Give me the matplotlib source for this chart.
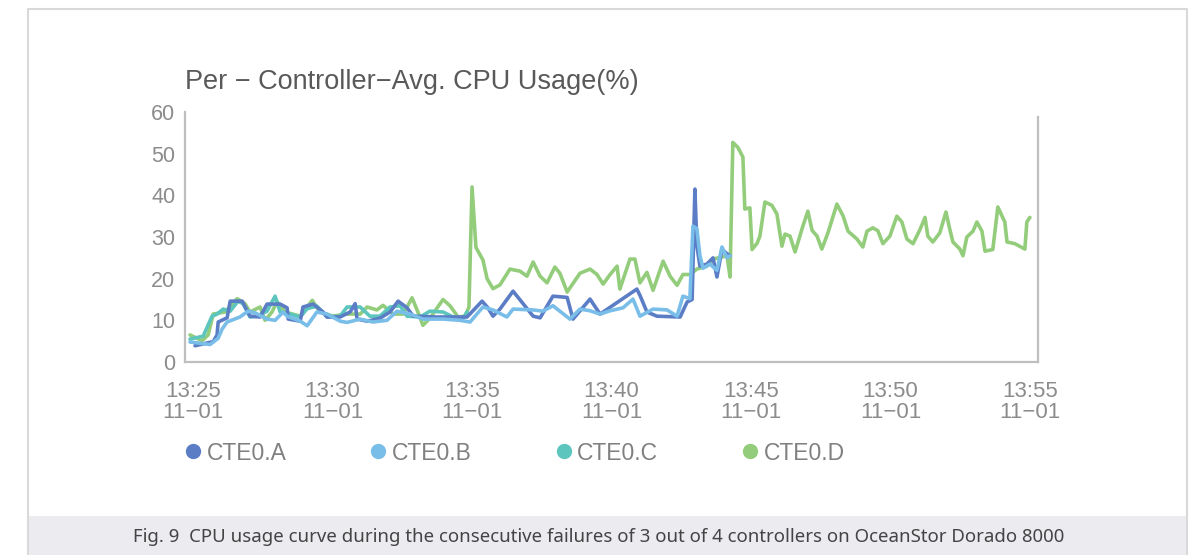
import matplotlib
matplotlib.use("Agg")
from matplotlib import pyplot as plt
from matplotlib.lines import Line2D
from matplotlib.patches import Rectangle


# time axis: minutes after 13:25 on 11-01
tick_minutes = [0, 5, 10, 15, 20, 25, 30]
tick_labels = ["13:25\n11\u221201", "13:30\n11\u221201", "13:35\n11\u221201",
               "13:40\n11\u221201", "13:45\n11\u221201", "13:50\n11\u221201",
               "13:55\n11\u221201"]
y_ticks = [0, 10, 20, 30, 40, 50, 60]

controllers = ["CTE0.A", "CTE0.B", "CTE0.C", "CTE0.D"]
colors = ["#5b7dc6", "#79bde9", "#5cc5bd", "#93cd7b"]

# CTE0.A
a_time = [0.07, 0.72, 0.86, 0.90, 1.22, 1.33, 1.76, 2.04, 2.40, 2.65,
          3.12, 3.37, 3.41, 3.84, 3.94, 4.30, 4.66, 4.80, 5.27, 5.63,
          5.81, 5.88, 6.24, 6.70, 7.06, 7.35, 7.67, 7.89, 8.75, 9.82,
          10.36, 10.57, 10.75, 11.00, 11.47, 11.83, 12.19, 12.44, 12.90, 13.41,
          13.62, 14.23, 14.59, 15.91, 16.02, 16.27, 16.63, 17.46, 17.71, 17.89,
          17.99, 18.06, 18.17, 18.42, 18.64, 18.78, 18.96, 19.14, 19.25]
a_cpu = [3.9, 4.9, 6.5, 9.6, 10.6, 14.6, 14.6, 11.0, 10.8, 13.9,
         13.9, 13.0, 10.3, 9.8, 13.2, 13.9, 12.0, 10.8, 10.8, 12.0,
         14.0, 10.3, 9.8, 10.5, 12.0, 14.6, 13.0, 11.0, 10.8, 10.8,
         14.6, 13.0, 11.0, 12.7, 17.0, 14.0, 11.0, 10.6, 15.8, 15.5,
         10.3, 15.1, 11.5, 17.5, 16.0, 12.0, 11.0, 10.8, 14.4, 15.0,
         41.5, 28.0, 23.0, 23.5, 25.0, 20.4, 27.0, 26.0, 25.5]

# CTE0.B
b_time = [-0.11, 0.61, 0.90, 1.04, 1.22, 1.68, 1.97, 2.22, 2.65, 2.94,
          3.23, 3.37, 3.84, 4.09, 4.44, 4.80, 5.27, 5.52, 5.99, 6.45,
          6.95, 7.31, 7.78, 8.24, 8.96, 9.57, 9.93, 10.39, 10.75, 11.25,
          11.47, 12.19, 12.54, 12.90, 13.51, 13.87, 14.23, 14.59, 14.95, 15.41,
          15.77, 16.02, 16.49, 16.99, 17.35, 17.56, 17.81, 17.92, 18.06, 18.17,
          18.28, 18.53, 18.78, 18.96, 19.14, 19.25]
b_cpu = [4.8, 4.2, 5.7, 7.9, 9.6, 10.8, 12.2, 11.8, 10.3, 10.0,
         12.0, 11.0, 9.8, 8.7, 12.0, 11.5, 9.8, 9.5, 10.3, 9.6,
         10.0, 12.2, 11.5, 10.3, 10.3, 10.0, 9.6, 13.2, 12.5, 10.8,
         12.7, 12.5, 12.2, 13.5, 10.3, 12.7, 12.3, 11.5, 12.3, 13.0,
         15.1, 11.0, 12.7, 12.5, 11.0, 15.8, 15.2, 32.6, 32.0, 25.5,
         22.5, 23.5, 22.0, 27.6, 25.0, 25.5]

# CTE0.C
c_time = [-0.11, 0.36, 0.68, 0.86, 1.08, 1.33, 1.61, 1.79, 2.04, 2.29,
          2.65, 2.94, 3.12, 3.48, 3.84, 4.09, 4.44, 4.80, 5.27, 5.52,
          5.99, 6.34, 6.70, 7.06, 7.42, 7.67, 8.14, 8.49, 8.96, 9.32,
          9.68, 9.82]
c_cpu = [5.5, 6.2, 11.0, 11.5, 12.7, 12.2, 14.6, 14.0, 10.8, 11.0,
         12.2, 15.8, 12.0, 11.5, 10.8, 12.8, 13.4, 10.8, 11.0, 13.2,
         13.2, 11.0, 11.0, 13.2, 13.5, 11.0, 10.8, 12.2, 12.0, 10.8,
         10.5, 12.0]

# CTE0.D
d_time = [-0.11, 0.32, 0.54, 0.72, 1.15, 1.58, 1.86, 2.04, 2.40, 2.58,
          2.83, 3.01, 3.30, 3.84, 4.27, 4.55, 5.02, 5.45, 5.99, 6.24,
          6.59, 6.81, 7.17, 7.53, 7.85, 8.06, 8.24, 8.49, 8.96, 9.21,
          9.50, 9.75, 9.89, 10.00, 10.14, 10.39, 10.54, 10.75, 11.00, 11.36,
          11.72, 11.97, 12.19, 12.44, 12.69, 12.97, 13.15, 13.41, 13.87, 14.23,
          14.48, 14.70, 14.95, 15.20, 15.30, 15.66, 15.84, 16.02, 16.27, 16.49,
          16.85, 17.10, 17.35, 17.56, 17.81, 18.06, 18.42, 18.64, 18.89, 19.14,
          19.25, 19.35, 19.53, 19.71, 19.78, 19.96, 20.04, 20.22, 20.32, 20.50,
          20.75, 20.93, 21.11, 21.22, 21.40, 21.58, 21.86, 22.04, 22.19, 22.37,
          22.54, 22.76, 23.08, 23.30, 23.48, 23.80, 24.01, 24.16, 24.37, 24.55,
          24.73, 24.98, 25.23, 25.41, 25.59, 25.81, 26.06, 26.24, 26.34, 26.52,
          26.77, 26.99, 27.13, 27.24, 27.49, 27.60, 27.74, 27.96, 28.10, 28.28,
          28.39, 28.67, 28.85, 29.10, 29.18, 29.46, 29.82, 29.89, 30.00]
d_cpu = [6.5, 5.1, 6.5, 11.5, 12.0, 15.2, 14.0, 12.0, 13.2, 10.0,
         12.0, 14.5, 12.0, 11.0, 14.8, 12.0, 11.0, 11.5, 11.5, 13.2,
         12.5, 13.6, 11.5, 11.5, 15.4, 12.0, 8.8, 10.5, 15.0, 13.5,
         10.8, 11.0, 13.2, 42.0, 27.5, 24.5, 20.0, 17.6, 18.5, 22.3,
         21.8, 20.6, 24.0, 20.6, 19.0, 22.8, 21.3, 16.8, 21.3, 22.3,
         21.0, 18.7, 21.0, 23.0, 17.5, 24.7, 24.7, 19.0, 21.5, 17.2,
         24.2, 20.6, 18.4, 21.0, 21.0, 22.3, 23.0, 24.7, 25.1, 25.5,
         20.4, 52.7, 51.5, 49.2, 36.7, 37.0, 27.0, 28.5, 30.2, 38.4,
         37.6, 35.5, 27.8, 30.7, 30.2, 26.4, 32.6, 36.2, 31.6, 30.2,
         27.1, 31.0, 37.9, 35.1, 31.4, 29.5, 27.6, 31.4, 32.2, 31.5,
         28.4, 30.2, 35.0, 33.6, 29.5, 28.4, 31.8, 34.7, 30.2, 28.8,
         31.0, 36.0, 31.8, 28.8, 27.1, 25.5, 30.0, 31.4, 33.6, 31.4,
         26.6, 27.0, 37.2, 33.6, 28.8, 28.4, 27.1, 33.6, 34.7]

caption = ("Fig. 9  CPU usage curve during the consecutive failures of "
           "3 out of 4 controllers on OceanStor Dorado 8000")

plt.rcParams['font.family'] = ['Liberation Sans', 'DejaVu Sans']

fig = plt.figure(figsize=(11.98, 5.55), dpi=100)
fig.patch.set_facecolor('white')

# page frame and grey caption strip
frame_color = '#d9d9d9'
x_left, x_right, y_top = 28 / 1198, 1187 / 1198, 1 - 9 / 555
fig.add_artist(Rectangle((x_left, 0), x_right - x_left, 39 / 555,
                         transform=fig.transFigure, color='#ebebf0', lw=0))
fig.add_artist(Line2D([x_left, x_left, x_right, x_right], [0, y_top, y_top, 0],
                      transform=fig.transFigure, color=frame_color, lw=1.5))
fig.text(0.5, 18 / 555, caption, ha='center', va='center', fontsize=13.4,
         color='#444444', family=['Noto Sans', 'DejaVu Sans'])

ax = fig.add_axes([185 / 1198, 193 / 555, 853 / 1198, 250 / 555])

series = [(a_time, a_cpu), (b_time, b_cpu), (c_time, c_cpu), (d_time, d_cpu)]
# D goes underneath, B on top
for i in [3, 2, 0, 1]:
    t, v = series[i]
    ax.plot(t, v, color=colors[i], lw=2.6, solid_joinstyle='round',
            solid_capstyle='round', label=controllers[i])

ax.set_xlim(-0.29, 30.29)
ax.set_ylim(0, 60)
ax.set_xticks(tick_minutes)
ax.set_xticklabels(tick_labels, linespacing=1.0)
ax.set_yticks(y_ticks)

for side in ['left', 'right', 'bottom']:
    ax.spines[side].set_color('#bfbfbf')
    ax.spines[side].set_linewidth(1.6)
ax.spines['top'].set_visible(False)
ax.spines['right'].set_bounds(0, 58.8)

ax.tick_params(axis='both', length=0, labelcolor='#8c8c8c')
ax.tick_params(axis='x', pad=14, labelsize=16)
ax.tick_params(axis='y', pad=7, labelsize=15.5)

fig.text(185 / 1198, 1 - 89 / 555, "Per \u2212 Controller\u2212Avg. CPU Usage(%)",
         ha='left', va='baseline', fontsize=19.5, color='#595959')

# legend row under the axis
handles = [Line2D([], [], ls='none', marker='o', markersize=10,
                  markerfacecolor=c, markeredgecolor=c) for c in colors]
fig.legend(handles, controllers, loc='center left',
           bbox_to_anchor=(185 / 1198, 1 - 453 / 555), ncol=4, frameon=False,
           fontsize=16.5, labelcolor='#808080', handlelength=0.7,
           handletextpad=0.25, columnspacing=3.65, borderpad=0,
           borderaxespad=0)

fig.savefig('out.png', dpi=100)
